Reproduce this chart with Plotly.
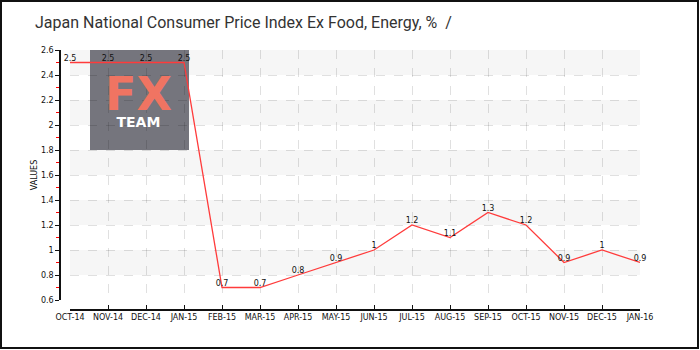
import plotly.graph_objects as go

months = ["Oct-14", "Nov-14", "Dec-14", "Jan-15", "Feb-15", "Mar-15", "Apr-15", "May-15",
          "Jun-15", "Jul-15", "Aug-15", "Sep-15", "Oct-15", "Nov-15", "Dec-15", "Jan-16"]
tick_labels = ["OCT-14", "NOV-14", "DEC-14", "JAN-15", "FEB-15", "MAR-15", "APR-15", "MAY-15",
               "JUN-15", "JUL-15", "AUG-15", "SEP-15", "OCT-15", "NOV-15", "DEC-15", "JAN-16"]
values = [2.5, 2.5, 2.5, 2.5, 0.7, 0.7, 0.8, 0.9, 1.0, 1.2, 1.1, 1.3, 1.2, 0.9, 1.0, 0.9]
value_labels = ["2.5", "2.5", "2.5", "2.5", "0.7", "0.7", "0.8", "0.9", "1", "1.2", "1.1", "1.3",
                "1.2", "0.9", "1", "0.9"]
y_ticks = [0.6, 0.8, 1.0, 1.2, 1.4, 1.6, 1.8, 2.0, 2.2, 2.4, 2.6]
y_tick_text = ["0.6", "0.8", "1", "1.2", "1.4", "1.6", "1.8", "2", "2.2", "2.4", "2.6"]
band_starts = [0.8, 1.2, 1.6, 2.0, 2.4]
band_height = 0.2

W, H = 700, 350
ML, MR, MT, MB = 60, 60, 50, 40
pw = W - ML - MR
ph = H - MT - MB
PL, PR, PT, PB = 70, 640, 50, 300  # plot area pixels

fig = go.Figure()
fig.add_trace(go.Scatter(
    x=months, y=values, mode="lines+text", text=value_labels,
    textposition="top center", textfont=dict(family="DejaVu Sans", size=8, color="#111"),
    line=dict(color="#ff3b3b", width=1.3), hoverinfo="skip", showlegend=False,
    cliponaxis=False,
))

def px2x(px):
    return (px - ML) / pw
def py2y(py):
    return (H - MB - py) / ph
def dx(px):
    return (px - PL) / (PR - PL)
def dy(py):
    return (PB - py) / (PB - PT)

shapes = []
for b in band_starts:
    shapes.append(dict(type="rect", xref="x domain", yref="y", x0=0, x1=1, y0=b, y1=b + band_height,
                       fillcolor="#f6f6f6", line=dict(width=0), layer="below"))
# logo box
shapes.append(dict(type="rect", xref="x domain", yref="y domain", x0=dx(90), x1=dx(189),
                   y0=dy(150), y1=dy(50), fillcolor="#75757d", line=dict(width=0),
                   layer="below"))
# outer frame
shapes.append(dict(type="rect", xref="paper", yref="paper", x0=px2x(1), x1=px2x(698),
                   y0=py2y(348), y1=py2y(1), fillcolor="rgba(0,0,0,0)",
                   line=dict(color="#111", width=2), layer="above"))

annotations = [
    dict(text="<span style='font-size:46px;color:#f07462'><b>FX</b></span><br>"
              "<span style='font-size:14px;color:#ffffff'><b>TEAM</b></span>",
         xref="paper", yref="paper", x=px2x(138), y=py2y(98), showarrow=False,
         font=dict(family="DejaVu Sans", size=13, color="#ffffff"), xanchor="center", yanchor="middle"),
]

grid_col = "rgba(0,0,0,0.12)"

fig.update_layout(
    width=W, height=H, autosize=False,
    margin=dict(l=ML, r=MR, t=MT, b=MB),
    paper_bgcolor="white", plot_bgcolor="white",
    title=dict(text="Japan National Consumer Price Index Ex Food, Energy, %  /",
               x=35 / W, xanchor="left", xref="container", y=1 - 22 / H, yanchor="middle", yref="container",
               font=dict(family="Roboto", size=16, color="#333")),
    shapes=shapes, annotations=annotations,
    xaxis=dict(type="category", domain=[10 / pw, 1], anchor="free", position=0, range=[0, 15],
               tickmode="array", tickvals=months, ticktext=tick_labels,
               ticks="inside", ticklen=4, tickcolor="#111", showline=True, linecolor="#111", linewidth=1.5,
               showgrid=True, gridcolor=grid_col, griddash="dash", gridwidth=1,
               tickfont=dict(family="DejaVu Sans", size=8, color="#111"), zeroline=False),
    yaxis=dict(domain=[10 / ph, 1], anchor="free", position=0, range=[0.6, 2.6],
               tickmode="array", tickvals=y_ticks, ticktext=y_tick_text,
               ticks="outside", ticklen=4, tickcolor="#111", showline=True, linecolor="#111", linewidth=1.5,
               showgrid=True, gridcolor=grid_col, griddash="dash", gridwidth=1,
               tickfont=dict(family="DejaVu Sans", size=8, color="#111"), zeroline=False,
               minor=dict(ticks="outside", ticklen=3, tickcolor="red", tickmode="array",
                          tickvals=[v + 0.1 for v in y_ticks[:-1]], showgrid=False),
               title=dict(text="VALUES", font=dict(family="DejaVu Sans", size=8, color="#111"), standoff=1)),
)

fig.write_html("out.html")
